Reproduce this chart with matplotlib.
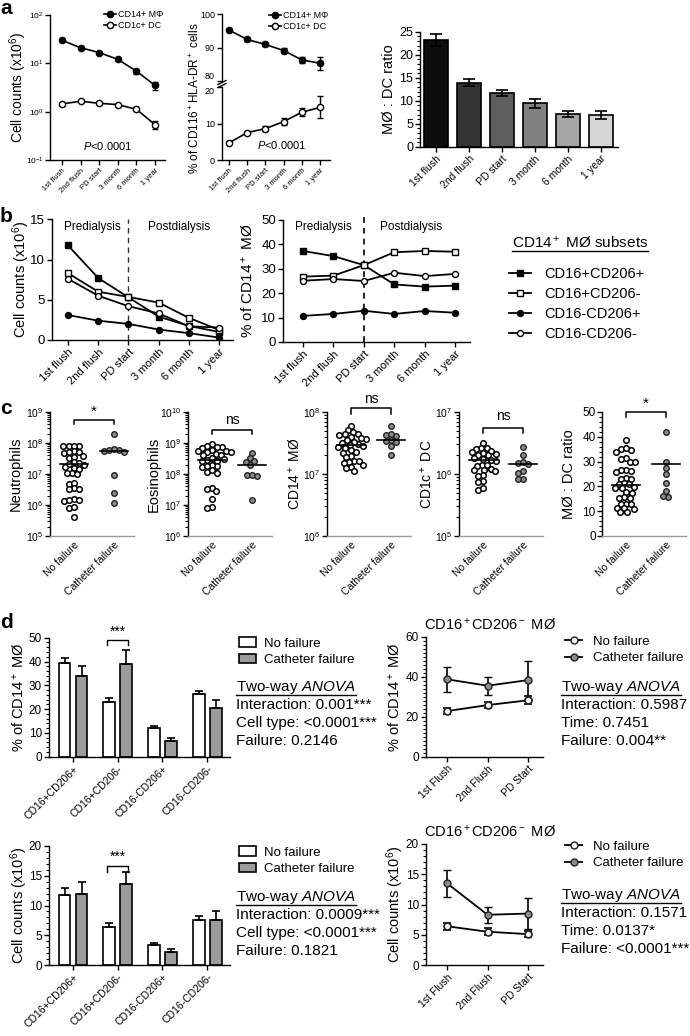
import numpy as np
import matplotlib
matplotlib.use('Agg')
import matplotlib.pyplot as plt
from matplotlib.ticker import (AutoMinorLocator, LogLocator, NullLocator)
from matplotlib.lines import Line2D
from matplotlib.patches import Patch

plt.rcParams['font.family'] = ['Liberation Sans', 'DejaVu Sans']
plt.rcParams['mathtext.fontset'] = 'custom'
plt.rcParams['mathtext.rm'] = 'Liberation Sans'
plt.rcParams['mathtext.it'] = 'Liberation Sans:italic'
plt.rcParams['mathtext.bf'] = 'Liberation Sans:bold'
plt.rcParams['axes.linewidth'] = 1.0

# ------------------------------------------------------------------ data
time_labels = ['1st flush', '2nd flush', 'PD start', '3 month', '6 month', '1 year']

a_mac = [30.0, 21.0, 16.7, 12.1, 6.9, 3.5]
a_mac_err = [1.5, 1.0, 0.8, 0.8, 0.8, 0.7]
a_dc = [1.45, 1.64, 1.49, 1.40, 1.12, 0.54]
a_dc_err = [0.07, 0.08, 0.07, 0.07, 0.1, 0.1]

a_pct_mac = [95.2, 92.4, 90.9, 89.1, 86.3, 85.3]
a_pct_mac_err = [0.4, 0.5, 0.6, 0.8, 1.0, 2.0]
a_pct_dc = [4.7, 7.5, 8.6, 10.5, 13.1, 14.4]
a_pct_dc_err = [0.4, 0.5, 0.6, 0.9, 1.1, 3.0]

a_ratio = [23.3, 13.9, 11.7, 9.4, 7.1, 6.9]
a_ratio_err = [1.3, 0.8, 0.6, 0.9, 0.7, 0.9]

subset_names = ['CD16+CD206+', 'CD16+CD206-', 'CD16-CD206+', 'CD16-CD206-']
b_cnt_pp = [11.75, 7.7, 5.3, 2.9, 1.75, 1.0]
b_cnt_pn = [8.3, 6.0, 5.35, 4.65, 2.75, 1.25]
b_cnt_np = [3.1, 2.4, 2.0, 1.3, 0.85, 0.3]
b_cnt_nn = [7.6, 5.5, 4.2, 3.3, 1.7, 1.55]
b_pct_pp = [37.3, 35.2, 31.5, 23.6, 22.7, 23.1]
b_pct_pn = [26.8, 27.2, 31.5, 36.8, 37.3, 37.0]
b_pct_np = [10.7, 11.5, 12.8, 11.5, 12.7, 12.0]
b_pct_nn = [25.1, 25.8, 25.0, 28.4, 27.0, 27.9]

group_labels = ['No failure', 'Catheter failure']
neut_nf = [8.2e7, 7.8e7, 8.0e7, 8.3e7, 5.4e7, 5.0e7, 4.7e7, 5.2e7, 3.8e7, 3.4e7,
           3.6e7, 2.4e7, 2.1e7, 1.9e7, 2.3e7, 1.6e7, 1.45e7, 1.7e7, 1.1e7, 9.8e6,
           1.05e7, 4.8e6, 5.3e6, 3.5e6, 3.2e6, 3.4e6, 1.55e6, 1.45e6, 1.35e6, 1.5e6,
           8.2e5, 8.6e5, 4.2e5]
neut_cf = [2.0e8, 6.0e7, 6.3e7, 5.6e7, 6.1e7, 5.0e7, 9.0e6, 2.5e6, 1.2e6]
eos_nf = [9.0e8, 7.8e8, 7.2e8, 6.8e8, 7.5e8, 5.9e8, 5.5e8, 5.2e8, 5.7e8, 5.3e8,
          4.4e8, 4.0e8, 4.2e8, 3.1e8, 2.9e8, 2.7e8, 3.2e8, 2.6e8, 1.8e8, 1.95e8,
          1.7e8, 1.85e8, 1.2e8, 1.3e8, 1.1e8, 3.6e7, 3.2e7, 2.9e7, 1.6e7, 8.5e6, 8.0e6]
eos_cf = [4.6e8, 3.2e8, 2.6e8, 2.5e8, 2.0e8, 9.0e7, 9.3e7, 8.7e7, 1.5e7]
mac_nf = [6.0e7, 5.1e7, 4.8e7, 4.5e7, 4.2e7, 4.4e7, 3.9e7, 3.7e7, 3.8e7, 3.5e7,
          3.2e7, 3.0e7, 3.3e7, 2.8e7, 2.9e7, 2.65e7, 2.75e7, 2.4e7, 2.3e7, 2.2e7,
          1.95e7, 1.85e7, 1.65e7, 1.55e7, 1.6e7, 1.5e7, 1.3e7, 1.38e7, 1.25e7, 1.1e7]
mac_cf = [5.9e7, 4.3e7, 4.1e7, 4.5e7, 3.5e7, 3.4e7, 3.3e7, 2.8e7, 2.0e7]
dc_nf = [3.2e6, 2.65e6, 2.5e6, 2.6e6, 2.3e6, 2.35e6, 2.1e6, 2.0e6, 2.15e6, 2.05e6,
         1.72e6, 1.65e6, 1.78e6, 1.7e6, 1.42e6, 1.35e6, 1.4e6, 1.22e6, 1.15e6, 1.18e6,
         1.1e6, 9.7e5, 9.3e5, 7.7e5, 7.4e5, 5.6e5, 5.9e5]
dc_cf = [2.7e6, 2.0e6, 1.5e6, 1.45e6, 1.55e6, 1.1e6, 1.05e6, 8.3e5, 8.2e5]
ratio_nf = [38.8, 35.0, 34.6, 34.0, 35.5, 31.6, 31.2, 30.0, 29.8, 26.8, 26.5, 26.2,
            25.8, 23.2, 23.0, 22.8, 21.2, 21.0, 20.8, 19.5, 19.2, 19.8, 17.8, 17.5,
            15.8, 15.5, 15.2, 13.1, 13.0, 12.8, 11.4, 11.2, 11.0, 9.7, 9.5]
ratio_cf = [41.8, 29.8, 27.5, 24.8, 21.5, 18.0, 15.8, 16.2]
c_line_nf = [2.1e7, 2.9e8, 2.97e7, 1.66e6, 20.5]
c_line_cf = [5.4e7, 1.9e8, 3.5e7, 1.47e6, 28.9]
c_sig = ['*', 'ns', 'ns', 'ns', '*']

d_pct_nf = [39.2, 22.8, 11.9, 26.3]
d_pct_nf_err = [2.2, 1.7, 1.0, 1.5]
d_pct_cf = [34.0, 39.0, 6.7, 20.6]
d_pct_cf_err = [4.2, 6.0, 1.3, 3.3]
d_cnt_nf = [11.8, 6.4, 3.4, 7.6]
d_cnt_nf_err = [1.1, 0.7, 0.35, 0.6]
d_cnt_cf = [11.9, 13.6, 2.2, 7.5]
d_cnt_cf_err = [2.0, 2.1, 0.45, 1.5]

flush_labels = ['1st Flush', '2nd Flush', 'PD Start']
d_line_pct_nf = [22.8, 25.8, 28.2]
d_line_pct_nf_err = [1.5, 1.5, 2.0]
d_line_pct_cf = [38.7, 35.5, 38.3]
d_line_pct_cf_err = [6.2, 4.5, 9.6]
d_line_cnt_nf = [6.4, 5.5, 5.1]
d_line_cnt_nf_err = [0.6, 0.6, 0.5]
d_line_cnt_cf = [13.5, 8.3, 8.5]
d_line_cnt_cf_err = [2.2, 1.3, 2.6]

anova_pct = ['Interaction: 0.001***', 'Cell type: <0.0001***', 'Failure: 0.2146']
anova_cnt = ['Interaction: 0.0009***', 'Cell type: <0.0001***', 'Failure: 0.1821']
anova_line_pct = ['Interaction: 0.5987', 'Time: 0.7451', 'Failure: 0.004**']
anova_line_cnt = ['Interaction: 0.1571', 'Time: 0.0137*', 'Failure: <0.0001***']

# ------------------------------------------------------------------ helpers
W, H = 690, 1036
fig = plt.figure(figsize=(W / 100, H / 100), dpi=100)
fig.patch.set_facecolor('white')
GRAY = '#8c8c8c'


def add_ax(x0, y0, x1, y1):
    return fig.add_axes([x0 / W, 1 - y1 / H, (x1 - x0) / W, (y1 - y0) / H])


def ftext(x, y, s, **kw):
    return fig.text(x / W, 1 - y / H, s, **kw)


def base_style(ax, ysize=8, xsize=8):
    ax.spines['top'].set_visible(False)
    ax.spines['right'].set_visible(False)
    ax.tick_params(axis='both', which='major', direction='out', length=3.5, width=1, pad=1.5)
    ax.tick_params(axis='both', which='minor', direction='out', length=2, width=0.8)
    ax.tick_params(axis='y', labelsize=ysize)
    ax.tick_params(axis='x', labelsize=xsize)
    ax.patch.set_alpha(0)


def set_ylab(ax, text, xc, size):
    ax.set_ylabel(text, fontsize=size, va='center', labelpad=0)
    pos = ax.get_position()
    ax.yaxis.set_label_coords((xc - pos.x0 * W) / (pos.width * W), 0.5)


def rot_labels(ax, ticks, labels, size):
    ax.set_xticks(ticks)
    ax.set_xticklabels(labels, rotation=45, ha='right', va='top',
                       rotation_mode='anchor', fontsize=size)


def underline(t, lw=1.0, off=1.5):
    fig.canvas.draw()
    bb = t.get_window_extent()
    y = (bb.y0 + off) / H
    fig.add_artist(Line2D([bb.x0 / W, bb.x1 / W], [y, y], color='black', lw=lw,
                          transform=fig.transFigure))


def swarm_x(ax, center, vals, diam=5.3, px_per_unit=40.0):
    ypx = np.array([ax.transData.transform((0, v))[1] for v in vals])
    order = np.argsort(-ypx)
    placed = []
    offs = np.zeros(len(vals))
    for i in order:
        y = ypx[i]
        cands = [0.0]
        for xo, yo in placed:
            dy = abs(y - yo)
            if dy < diam:
                dx = np.sqrt(diam ** 2 - dy ** 2)
                cands += [xo + dx, xo - dx]
        cands = sorted(cands, key=lambda c: (abs(c), c))
        for c in cands:
            if all((c - xo) ** 2 + (y - yo) ** 2 >= diam ** 2 - 1e-6 for xo, yo in placed):
                offs[i] = c
                break
        placed.append((offs[i], y))
    return center + offs / px_per_unit


# ------------------------------------------------------------------ panel letters
for (lx, ly, lt) in [(0, 8, 'a'), (0, 216, 'b'), (0, 408, 'c'), (0, 623, 'd')]:
    ftext(lx, ly, lt, fontsize=15, fontweight='bold', ha='left', va='center')

xt = np.arange(len(time_labels))

# ------------------------------------------------------------------ a1
ax = add_ax(50, 15, 165, 160)
base_style(ax, 6, 5.5)
ax.tick_params(axis='y', pad=1)
ax.set_yscale('log')
ax.set_ylim(0.1, 100)
ax.set_xlim(-0.645, 5.54)
ax.errorbar(xt, a_mac, yerr=a_mac_err, color='black', marker='o', ms=4.5,
            mfc='black', mec='black', lw=1.2, capsize=2.5, elinewidth=1)
ax.errorbar(xt, a_dc, yerr=a_dc_err, color='black', marker='o', ms=4.5,
            mfc='white', mec='black', mew=1.0, lw=1.2, capsize=2.5, elinewidth=1)
ax.yaxis.set_major_locator(LogLocator(base=10, numticks=6))
ax.yaxis.set_minor_locator(NullLocator())
rot_labels(ax, xt, time_labels, 5.5)
set_ylab(ax, 'Cell counts (x10$^6$)', 18, 10)
ax.text(0.5, 0.1, '$P$<0.0001', transform=ax.transAxes, ha='center', va='center', fontsize=8)
ax.legend([Line2D([], [], color='black', marker='o', ms=4.5, mfc='black', lw=1.2),
           Line2D([], [], color='black', marker='o', ms=4.5, mfc='white', lw=1.2)],
          ['CD14+ MΦ', 'CD1c+ DC'], loc='upper right', bbox_to_anchor=(1.02, 1.06),
          frameon=False, fontsize=6.5, handlelength=1.3, handletextpad=0.3,
          labelspacing=0.25, borderaxespad=0)

# ------------------------------------------------------------------ a2 (broken axis)
axt = add_ax(222, 14, 330, 81)
axb = add_ax(222, 87, 330, 160)
for a_ in (axt, axb):
    base_style(a_, 6.5, 5.5)
    a_.set_xlim(-0.385, 5.55)
axt.set_ylim(80, 100)
axt.set_yticks([80, 90, 100])
axt.spines['bottom'].set_visible(False)
axt.tick_params(axis='x', which='both', bottom=False, labelbottom=False)
axb.set_ylim(0, 20)
axb.set_yticks([0, 10, 20])
axt.get_yticklabels()[0].set_va('bottom')
axb.get_yticklabels()[-1].set_va('top')
axt.errorbar(xt, a_pct_mac, yerr=a_pct_mac_err, color='black', marker='o', ms=4.5,
             mfc='black', mec='black', lw=1.2, capsize=2.5, elinewidth=1)
axb.errorbar(xt, a_pct_dc, yerr=a_pct_dc_err, color='black', marker='o', ms=4.5,
             mfc='white', mec='black', mew=1.0, lw=1.2, capsize=2.5, elinewidth=1)
rot_labels(axb, xt, time_labels, 5.5)
ftext(195, 98, '% of CD116$^+$HLA-DR$^+$ cells', rotation=90, ha='center', va='center', fontsize=8.5)
axb.text(0.55, 0.2, '$P$<0.0001', transform=axb.transAxes, ha='center', va='center', fontsize=8)
axt.legend([Line2D([], [], color='black', marker='o', ms=4.5, mfc='black', lw=1.2),
            Line2D([], [], color='black', marker='o', ms=4.5, mfc='white', lw=1.2)],
           ['CD14+ MΦ', 'CD1c+ DC'], loc='upper right', bbox_to_anchor=(1.02, 1.1),
           frameon=False, fontsize=6.5, handlelength=1.3, handletextpad=0.3,
           labelspacing=0.25, borderaxespad=0)
for yb in (82.5, 85.5):
    fig.add_artist(Line2D([218 / W, 226 / W], [1 - (yb + 2) / H, 1 - (yb - 2) / H],
                          color='black', lw=1, transform=fig.transFigure))

# ------------------------------------------------------------------ a3 bars
ax = add_ax(420, 31.7, 618, 146.7)
base_style(ax, 9, 7.5)
ax.set_xlim(-0.485, 5.515)
ax.set_ylim(0, 25)
ax.set_yticks([0, 5, 10, 15, 20, 25])
ax.yaxis.set_minor_locator(AutoMinorLocator(5))
bar_cols = ['#0d0d0d', '#333333', '#5e5e5e', '#808080', '#a6a6a6', '#d6d6d6']
ax.bar(xt, a_ratio, width=0.7, color=bar_cols, edgecolor='black', lw=1.2, zorder=2)
ax.errorbar(xt, a_ratio, yerr=a_ratio_err, fmt='none', ecolor='black', elinewidth=1.2,
            capsize=4.2, capthick=1.2, zorder=3)
rot_labels(ax, xt, time_labels, 7.5)
set_ylab(ax, 'MØ : DC ratio', 389, 10.5)

# ------------------------------------------------------------------ b
b_styles = [dict(marker='s', mfc='black'), dict(marker='s', mfc='white'),
            dict(marker='o', mfc='black'), dict(marker='o', mfc='white')]

ax = add_ax(52, 219.3, 233, 340)
base_style(ax, 9.5, 8)
ax.set_xlim(-0.53, 5.46)
ax.set_ylim(0, 15)
ax.set_yticks([0, 5, 10, 15])
for ser, st in zip([b_cnt_pp, b_cnt_pn, b_cnt_np, b_cnt_nn], b_styles):
    ax.plot(xt, ser, color='black', lw=1.3, ms=4.3, mec='black', mew=1.0, **st)
ax.axvline(2, color='#333333', lw=1, dashes=(4, 3), zorder=0)
rot_labels(ax, xt, time_labels, 8)
set_ylab(ax, 'Cell counts (x10$^6$)', 21, 10.5)
ftext(92, 227, 'Predialysis', ha='center', va='center', fontsize=8.5)
ftext(179, 227, 'Postdialysis', ha='center', va='center', fontsize=8.5)

ax = add_ax(283, 220, 470, 342)
base_style(ax, 9.5, 8)
ax.set_xlim(-0.66, 5.49)
ax.set_ylim(0, 50)
ax.set_yticks([0, 10, 20, 30, 40, 50])
b_handles = []
for ser, st in zip([b_pct_pp, b_pct_pn, b_pct_np, b_pct_nn], b_styles):
    h, = ax.plot(xt, ser, color='black', lw=1.3, ms=4.3, mec='black', mew=1.0, **st)
    b_handles.append(h)
ax.plot([2, 2], [0, 52.5], color='black', lw=1.2, dashes=(3.5, 3), zorder=0, clip_on=False)
rot_labels(ax, xt, time_labels, 8)
set_ylab(ax, '% of CD14$^+$ MØ', 248, 11)
ftext(323, 227, 'Predialysis', ha='center', va='center', fontsize=8.5)
ftext(411, 227, 'Postdialysis', ha='center', va='center', fontsize=8.5)

fig.legend(b_handles, subset_names, loc='upper left', bbox_to_anchor=(503 / W, 1 - 261 / H),
           frameon=False, fontsize=10.5, handlelength=1.5, handletextpad=0.9,
           labelspacing=0.42, borderaxespad=0)
t = ftext(580, 243, 'CD14$^+$ MØ subsets', ha='center', va='center', fontsize=11)
underline(t, lw=1.0, off=0.5)

# ------------------------------------------------------------------ c
c_left = [50, 188, 327, 459, 602]
c_nf = [neut_nf, eos_nf, mac_nf, dc_nf, ratio_nf]
c_cf = [neut_cf, eos_cf, mac_cf, dc_cf, ratio_cf]
c_ylims = [(1e5, 1e9), (1e6, 1e10), (1e6, 1e8), (1e5, 1e7), (0, 50)]
c_ylab = ['Neutrophils', 'Eosinophils', 'CD14$^+$ MØ', 'CD1c$^+$ DC', 'MØ : DC ratio']
c_ylab_x = [16, 154, 295, 427, 569]
c_brk = [(5.6e8, 4e8, 1.0e9), (2.7e9, 2.0e9, 5.5e9), (1.16e8, 0.93e8, 1.6e8),
         (5.5e6, 4.6e6, 8.5e6), (50, 47.8, 53.5)]

for k in range(5):
    ax = add_ax(c_left[k], 412, c_left[k] + 84, 536)
    base_style(ax, 7.5, 7.5)
    ax.tick_params(axis='y', pad=1)
    ax.set_xlim(-0.6, 1.5)
    ax.spines['bottom'].set_color('#9a9a9a')
    ax.tick_params(axis='x', length=0, pad=3)
    if k < 4:
        ax.set_yscale('log')
        ax.set_ylim(*c_ylims[k])
        ax.yaxis.set_major_locator(LogLocator(base=10, numticks=8))
        ax.yaxis.set_minor_locator(LogLocator(base=10, subs=np.arange(2, 10), numticks=20))
    else:
        ax.set_ylim(*c_ylims[k])
        ax.set_yticks([0, 10, 20, 30, 40, 50])
        ax.yaxis.set_minor_locator(AutoMinorLocator(5))
        ax.tick_params(axis='y', labelsize=8.5)
    xs_nf = swarm_x(ax, 0, c_nf[k])
    xs_cf = swarm_x(ax, 1, c_cf[k])
    ax.scatter(xs_nf, c_nf[k], s=16, facecolor='white', edgecolor='black', lw=1.1, zorder=3, clip_on=False)
    ax.scatter(xs_cf, c_cf[k], s=16, facecolor=GRAY, edgecolor='#222222', lw=1.0, zorder=3, clip_on=False)
    ax.plot([-0.34, 0.34], [c_line_nf[k]] * 2, color='black', lw=1.2, zorder=4)
    ax.plot([0.66, 1.34], [c_line_cf[k]] * 2, color='black', lw=1.2, zorder=4)
    yb, ytk, ytx = c_brk[k]
    ax.plot([0, 0, 1, 1], [ytk, yb, yb, ytk], color='black', lw=1.1, clip_on=False)
    ax.text(0.5, ytx, c_sig[k], ha='center', va='center', fontsize=10 if c_sig[k] == 'ns' else 11,
            clip_on=False)
    rot_labels(ax, [0, 1], group_labels, 7.5)
    set_ylab(ax, c_ylab[k], c_ylab_x[k], 10.5 if k not in (2, 3) else 10)

# ------------------------------------------------------------------ d bars
xg = np.arange(len(subset_names))


def bar_panel(y0, y1, ymax, ystep, nf, nfe, cf, cfe, ylabel, brk):
    ax = add_ax(49, y0, 230, y1)
    base_style(ax, 8.5, 7.5)
    ax.set_xlim(-0.537, 3.51)
    ax.set_ylim(0, ymax)
    ax.set_yticks(np.arange(0, ymax + 0.1, ystep))
    ax.yaxis.set_minor_locator(AutoMinorLocator(5))
    ax.bar(xg - 0.19, nf, width=0.26, color='white', edgecolor='black', lw=1.2, zorder=2)
    ax.bar(xg + 0.19, cf, width=0.26, color='#9c9c9c', edgecolor='black', lw=1.2, zorder=2)
    ax.errorbar(xg - 0.19, nf, yerr=[np.zeros(4), nfe], fmt='none', ecolor='black',
                elinewidth=1.2, capsize=3, capthick=1.2, zorder=3)
    ax.errorbar(xg + 0.19, cf, yerr=[np.zeros(4), cfe], fmt='none', ecolor='black',
                elinewidth=1.2, capsize=3, capthick=1.2, zorder=3)
    rot_labels(ax, xg, subset_names, 7.5)
    set_ylab(ax, ylabel, 19, 10.5)
    yb, ytk, ytx = brk
    ax.plot([1 - 0.23, 1 - 0.23, 1 + 0.22, 1 + 0.22], [ytk, yb, yb, ytk], color='black',
            lw=1.0, clip_on=False)
    ax.text(1, ytx, '***', ha='center', va='center', fontsize=10, clip_on=False)
    return ax


bar_panel(637.7, 756.7, 50, 10, d_pct_nf, d_pct_nf_err, d_pct_cf, d_pct_cf_err,
          '% of CD14$^+$ MØ', (49.2, 46.8, 52.4))
bar_panel(846, 965, 20, 5, d_cnt_nf, d_cnt_nf_err, d_cnt_cf, d_cnt_cf_err,
          'Cell counts (x10$^6$)', (16.6, 15.6, 18.2))

for ly in (632, 841):
    fig.legend([Patch(facecolor='white', edgecolor='black', lw=1.2),
                Patch(facecolor='#9c9c9c', edgecolor='black', lw=1.2)],
               group_labels, loc='upper left', bbox_to_anchor=(234 / W, 1 - ly / H),
               frameon=False, fontsize=9.5, handlelength=1.25, handleheight=0.75,
               handletextpad=0.6, labelspacing=0.3, borderaxespad=0)

# ------------------------------------------------------------------ d lines
xf = np.arange(len(flush_labels))


def line_panel(y0, y1, ymax, ystep, nf, nfe, cf, cfe, ylabel, title_y):
    ax = add_ax(426, y0, 543, y1)
    base_style(ax, 8.5, 7.5)
    ax.set_xlim(-0.52, 2.37)
    ax.set_ylim(0, ymax)
    ax.set_yticks(np.arange(0, ymax + 0.1, ystep))
    ax.yaxis.set_minor_locator(AutoMinorLocator(5 if ystep == 5 else 10))
    ax.errorbar(xf, cf, yerr=cfe, color='black', marker='o', ms=5, mfc=GRAY, mec='#222222',
                mew=1.0, lw=1.3, capsize=3, elinewidth=1.2, capthick=1.2)
    ax.errorbar(xf, nf, yerr=nfe, color='black', marker='o', ms=5, mfc='#f2f2f2', mec='#222222',
                mew=1.2, lw=1.3, capsize=3, elinewidth=1.2, capthick=1.2)
    rot_labels(ax, xf, flush_labels, 7.5)
    set_ylab(ax, ylabel, 395, 10.5)
    ftext(490, title_y, 'CD16$^+$CD206$^-$ MØ', ha='center', va='center', fontsize=10.5)
    return ax


line_panel(636.7, 756.7, 60, 20, d_line_pct_nf, d_line_pct_nf_err, d_line_pct_cf,
           d_line_pct_cf_err, '% of CD14$^+$ MØ', 625)
line_panel(844, 965, 20, 5, d_line_cnt_nf, d_line_cnt_nf_err, d_line_cnt_cf,
           d_line_cnt_cf_err, 'Cell counts (x10$^6$)', 832)

for ly in (630, 835):
    fig.legend([Line2D([], [], color='black', marker='o', ms=5, mfc='#f2f2f2', mec='#222222', lw=1.3),
                Line2D([], [], color='black', marker='o', ms=5, mfc=GRAY, mec='#222222', lw=1.3)],
               group_labels, loc='upper left', bbox_to_anchor=(560 / W, 1 - ly / H),
               frameon=False, fontsize=9.5, handlelength=1.3, handletextpad=0.8,
               labelspacing=0.35, borderaxespad=0)

# ------------------------------------------------------------------ ANOVA text
for (x0, y0, lines) in [(236, 687, anova_pct), (236, 897, anova_cnt),
                        (561, 687, anova_line_pct), (561, 895, anova_line_cnt)]:
    t = ftext(x0, y0, 'Two-way $ANOVA$', ha='left', va='center', fontsize=11)
    underline(t, lw=1.0, off=0.5)
    for i, s in enumerate(lines):
        ftext(x0, y0 + 18 * (i + 1), s, ha='left', va='center', fontsize=11)

fig.savefig('out.png', dpi=100, facecolor='white')
